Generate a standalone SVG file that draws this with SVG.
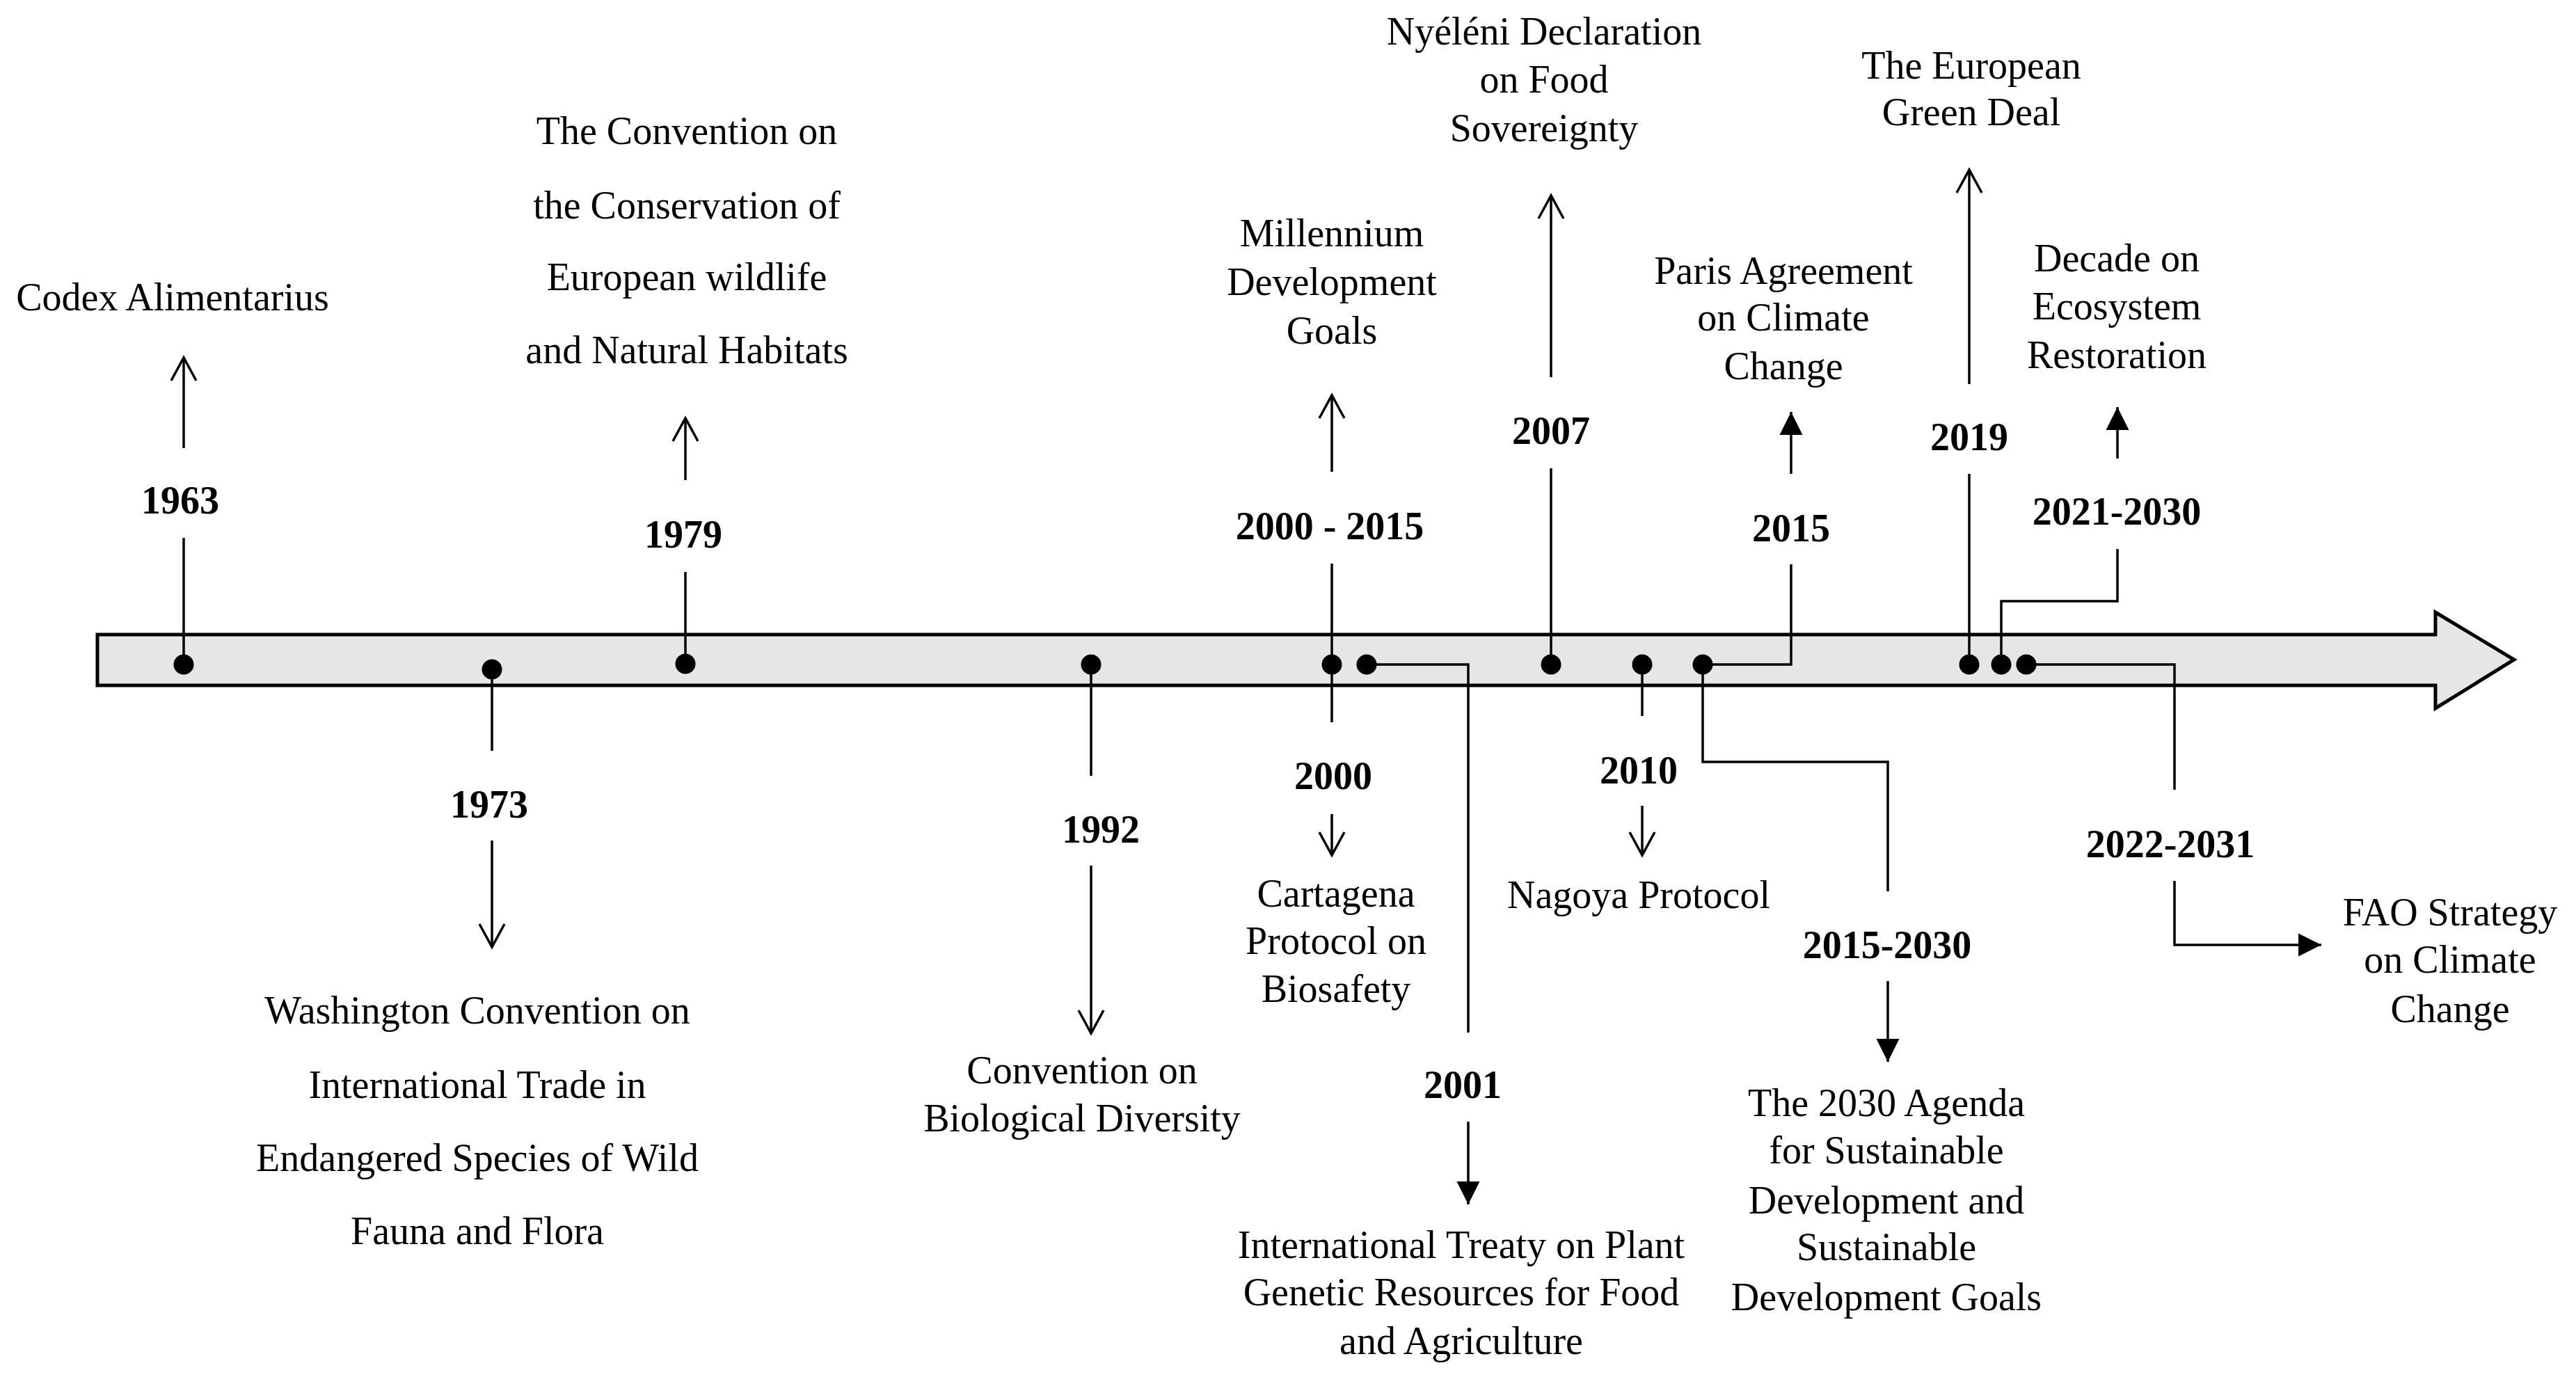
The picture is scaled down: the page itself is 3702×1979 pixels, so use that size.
<svg xmlns="http://www.w3.org/2000/svg" width="3702" height="1979" viewBox="0 0 3702 1979">
<style>
text{font-family:"Liberation Serif","Times New Roman",serif;font-size:56px;fill:#000;text-anchor:middle}
.yr{font-weight:bold}
.ln{fill:none;stroke:#000;stroke-width:3.5}
.op{marker-end:url(#open)}
.fl{marker-end:url(#filled)}
.dot{fill:#000}
</style>
<defs>
<marker id="open" markerUnits="userSpaceOnUse" markerWidth="40" markerHeight="40" viewBox="-36 -20 40 40" refX="0" refY="0" orient="auto" overflow="visible">
<path d="M-33,-18 L0,0 L-33,18" fill="none" stroke="#000" stroke-width="3.5"/>
</marker>
<marker id="filled" markerUnits="userSpaceOnUse" markerWidth="40" markerHeight="40" viewBox="-30 -16 34 32" refX="0" refY="0" orient="auto" overflow="visible">
<path d="M0,0 L-28,-14 L-28,14 Z" fill="#000"/>
</marker>
</defs>
<rect width="3702" height="1979" fill="#fff"/>
<g id="timeline">
<path d="M140,912 H3500 V880 L3613,948 L3500,1018 V985 H140 Z" fill="#e6e6e6" stroke="#000" stroke-width="5" stroke-linejoin="miter"/>
</g>
<g id="connectors">
<line class="ln" x1="264" y1="955" x2="264" y2="773"/>
<line class="ln op" x1="264" y1="644" x2="264" y2="514"/>
<line class="ln" x1="985" y1="954" x2="985" y2="822"/>
<line class="ln op" x1="985" y1="690" x2="985" y2="601"/>
<line class="ln" x1="1914" y1="955" x2="1914" y2="810"/>
<line class="ln op" x1="1914" y1="678" x2="1914" y2="568"/>
<line class="ln" x1="2229" y1="955" x2="2229" y2="673"/>
<line class="ln op" x1="2229" y1="542" x2="2229" y2="281"/>
<path class="ln" d="M2447,955 H2574 V811"/>
<line class="ln fl" x1="2574" y1="681" x2="2574" y2="592"/>
<line class="ln" x1="2830" y1="955" x2="2830" y2="681"/>
<line class="ln op" x1="2830" y1="552" x2="2830" y2="244"/>
<path class="ln" d="M2876,955 V864 H3043 V789"/>
<line class="ln fl" x1="3043" y1="659" x2="3043" y2="585"/>
<line class="ln" x1="707" y1="962" x2="707" y2="1079"/>
<line class="ln op" x1="707" y1="1208" x2="707" y2="1361"/>
<line class="ln" x1="1568" y1="955" x2="1568" y2="1115"/>
<line class="ln op" x1="1568" y1="1244" x2="1568" y2="1485"/>
<line class="ln" x1="1914" y1="955" x2="1914" y2="1038"/>
<line class="ln op" x1="1914" y1="1170" x2="1914" y2="1229"/>
<path class="ln" d="M1964,955 H2110 V1484"/>
<line class="ln fl" x1="2110" y1="1612" x2="2110" y2="1731"/>
<line class="ln" x1="2360" y1="955" x2="2360" y2="1029"/>
<line class="ln op" x1="2360" y1="1158" x2="2360" y2="1229"/>
<path class="ln" d="M2447,955 V1095 H2713 V1281"/>
<line class="ln fl" x1="2713" y1="1410" x2="2713" y2="1526"/>
<path class="ln" d="M2912,955 H3125 V1135"/>
<path class="ln fl" d="M3125,1266 V1358 H3336"/>
</g>
<g id="n1963"><circle class="dot" cx="264" cy="955" r="14.5"/><text class="yr" x="259" y="738">1963</text><text x="248" y="446">Codex Alimentarius</text></g>
<g id="n1973"><circle class="dot" cx="707" cy="962" r="14.5"/><text class="yr" x="703" y="1175">1973</text><text x="686" y="1471">Washington Convention on</text><text x="686" y="1578">International Trade in</text><text x="686" y="1683">Endangered Species of Wild</text><text x="686" y="1788">Fauna and Flora</text></g>
<g id="n1979"><circle class="dot" cx="985" cy="954" r="14.5"/><text class="yr" x="982" y="787">1979</text><text x="987" y="207">The Convention on</text><text x="987" y="314">the Conservation of</text><text x="987" y="417">European wildlife</text><text x="987" y="522">and Natural Habitats</text></g>
<g id="n1992"><circle class="dot" cx="1568" cy="955" r="14.5"/><text class="yr" x="1582" y="1211">1992</text><text x="1555" y="1557">Convention on</text><text x="1555" y="1626">Biological Diversity</text></g>
<g id="n2000-2015"><circle class="dot" cx="1914" cy="955" r="14.5"/><text class="yr" x="1911" y="775">2000 - 2015</text><text x="1914" y="354">Millennium</text><text x="1914" y="424">Development</text><text x="1914" y="494">Goals</text></g>
<g id="n2000"><text class="yr" x="1916" y="1134">2000</text><text x="1920" y="1303">Cartagena</text><text x="1920" y="1371">Protocol on</text><text x="1920" y="1440">Biosafety</text></g>
<g id="n2001"><circle class="dot" cx="1964" cy="955" r="14.5"/><text class="yr" x="2102" y="1578">2001</text><text x="2100" y="1808">International Treaty on Plant</text><text x="2100" y="1876">Genetic Resources for Food</text><text x="2100" y="1946">and Agriculture</text></g>
<g id="n2007"><circle class="dot" cx="2229" cy="955" r="14.5"/><text class="yr" x="2229" y="638">2007</text><text x="2219" y="64">Nyéléni Declaration</text><text x="2219" y="133">on Food</text><text x="2219" y="203">Sovereignty</text></g>
<g id="n2010"><circle class="dot" cx="2360" cy="955" r="14.5"/><text class="yr" x="2355" y="1126">2010</text><text x="2355" y="1305">Nagoya Protocol</text></g>
<g id="n2015"><circle class="dot" cx="2447" cy="955" r="14.5"/><text class="yr" x="2574" y="778">2015</text><text x="2563" y="408">Paris Agreement</text><text x="2563" y="475">on Climate</text><text x="2563" y="545">Change</text></g>
<g id="n2015-2030"><text class="yr" x="2712" y="1377">2015-2030</text><text x="2711" y="1604">The 2030 Agenda</text><text x="2711" y="1672">for Sustainable</text><text x="2711" y="1744">Development and</text><text x="2711" y="1811">Sustainable</text><text x="2711" y="1883">Development Goals</text></g>
<g id="n2019"><circle class="dot" cx="2830" cy="955" r="14.5"/><text class="yr" x="2830" y="647">2019</text><text x="2833" y="113">The European</text><text x="2833" y="180">Green Deal</text></g>
<g id="n2021-2030"><circle class="dot" cx="2876" cy="955" r="14.5"/><text class="yr" x="3042" y="754">2021-2030</text><text x="3042" y="390">Decade on</text><text x="3042" y="459">Ecosystem</text><text x="3042" y="529">Restoration</text></g>
<g id="n2022-2031"><circle class="dot" cx="2912" cy="955" r="14.5"/><text class="yr" x="3119" y="1232">2022-2031</text><text x="3521" y="1330">FAO Strategy</text><text x="3521" y="1398">on Climate</text><text x="3521" y="1469">Change</text></g>
</svg>
